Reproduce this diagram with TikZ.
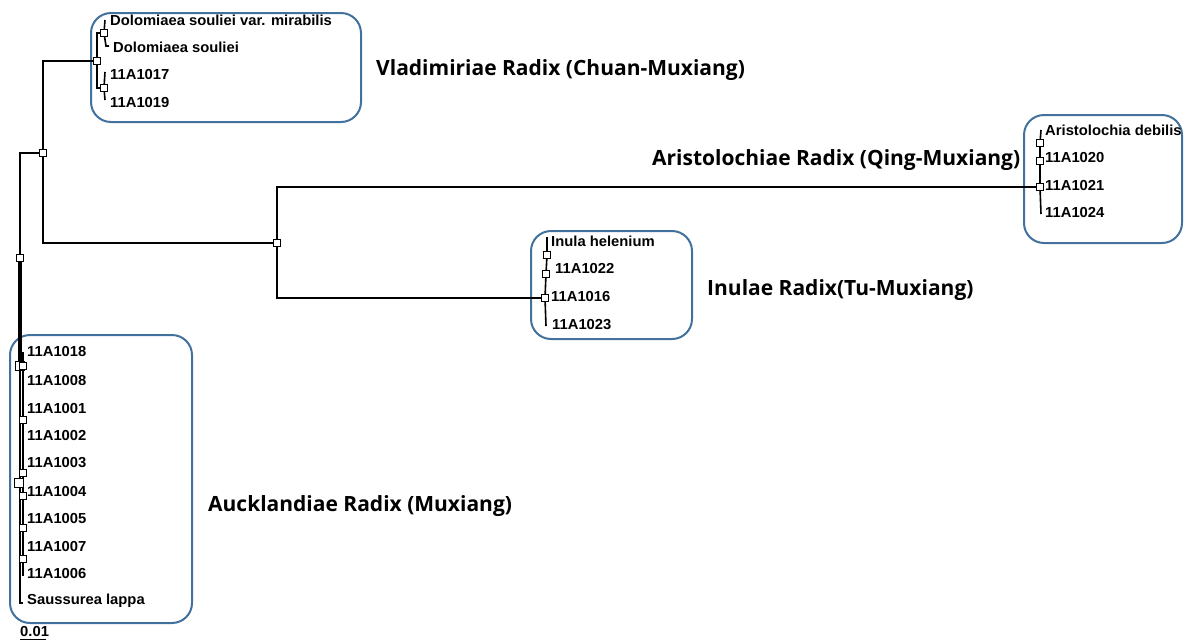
\documentclass[tikz,border=0pt]{standalone}
\usepackage{fontspec}
\setmainfont{Liberation Sans}
\newfontfamily\labfam{Open Sans}
\definecolor{boxblue}{RGB}{65,113,156}
\newcommand{\tipfont}{\fontsize{14.5}{16}\selectfont\bfseries\addfontfeature{FakeStretch=1.02}}
\newcommand{\grpfont}{\labfam\fontsize{21}{23}\selectfont\bfseries}
\begin{document}
\begin{tikzpicture}[x=1pt,y=-1pt]
\tikzset{
 br/.style={draw=black, line width=1.6pt},
 thk/.style={draw=black, line width=3.6pt},
 nd/.style={draw=black, fill=white, line width=0.8pt, minimum size=7pt, inner sep=0pt, rectangle},
 bignd/.style={nd, minimum size=9pt},
 tip/.style={anchor=west, inner sep=0pt, font=\tipfont},
 grp/.style={draw=boxblue, line width=2pt, rounded corners=20pt},
 clab/.style={anchor=west, inner sep=0pt, font=\grpfont},
}
\useasboundingbox (0,0) rectangle (1184,641);
% internal nodes
\coordinate (r0) at (20,258);
\coordinate (n1) at (43,153);
\coordinate (n2) at (277,243);
\coordinate (v0) at (97,61);
\coordinate (v1) at (104,33);
\coordinate (v2) at (104,88);
\coordinate (q0) at (1040,187);
\coordinate (q1) at (1040,161);
\coordinate (q2) at (1040,143);
\coordinate (i0) at (545,298);
\coordinate (i1) at (546,274);
\coordinate (i2) at (547,255);
\coordinate (a0) at (20,366);
\coordinate (a1) at (23,366);
% tip ends
\coordinate (tv1) at (105,20);
\coordinate (tv2a) at (106,46);
\coordinate (tv2) at (109,46);
\coordinate (tv3) at (105,72);
\coordinate (tv4) at (105,100);
\coordinate (tq1) at (1041,130);
\coordinate (tq4) at (1041,214);
\coordinate (ti1) at (547,237);
\coordinate (ti4) at (546,326);
\coordinate (ta0) at (20,603);
\coordinate (ta1) at (23,352);
\coordinate (ta2) at (23,576);
% group boxes
\draw[grp] (91,13) rectangle (361,122);
\draw[grp] (1024,115) rectangle (1182,243);
\draw[grp] (531,231) rectangle (692,339);
\draw[grp] (10,335) rectangle (192,623);
% branches
\draw[br] (n1) -| (r0);
\draw[thk] (r0) -- (a0);
\draw[br] (n1) |- (v0);
\draw[br] (n1) |- (n2);
\draw[br] (n2) |- (q0);
\draw[br] (n2) |- (i0);
\draw[br] (v0) |- (v1);
\draw[br] (v0) |- (v2);
\draw[br] (v1) -- (tv1);
\draw[br] (v1) -- (tv2a) -- (tv2);
\draw[br] (v2) -- (tv3);
\draw[br] (v2) -- (tv4);
\draw[br] (tq1) -- (q2) -- (q1) -- (q0) -- (tq4);
\draw[br] (ti1) -- (i2) -- (i1) -- (i0) -- (ti4);
\draw[br] (a0) -- (ta0) -- ++(3,0);
\draw[br] (ta1) -- (a1) -- (ta2);
% node boxes
\node[nd] (r0b) at (r0) {};
\node[nd] (n1b) at (n1) {};
\node[nd] (n2b) at (n2) {};
\node[nd] (v0b) at (v0) {};
\node[nd] (v1b) at (v1) {};
\node[nd] (v2b) at (v2) {};
\node[nd] (q0b) at (q0) {};
\node[nd] (q1b) at (q1) {};
\node[nd] (q2b) at (q2) {};
\node[nd] (i0b) at (i0) {};
\node[nd] (i1b) at (i1) {};
\node[nd] (i2b) at (i2) {};
\node[bignd] (a0b) at (a0) {};
\node[nd] (a1b) at (a1) {};
\node[nd] (a2b) at (23,420) {};
\node[nd] (a3b) at (23,473) {};
\node[bignd] (a4b) at (19,483) {};
\node[nd] (a5b) at (23,496) {};
\node[nd] (a6b) at (23,528) {};
\node[nd] (a7b) at (23,559) {};
% tip labels
\node[tip] (t1) at (110,20) {Dolomiaea souliei var. mirabilis};
\node[tip] (t2) at (113,47) {Dolomiaea souliei};
\node[tip] (t3) at (110,75) {11A1017};
\node[tip] (t4) at (110,103) {11A1019};
\node[tip] (t5) at (1045,130) {Aristolochia debilis};
\node[tip] (t6) at (1045,158) {11A1020};
\node[tip] (t7) at (1045,186) {11A1021};
\node[tip] (t8) at (1045,213) {11A1024};
\node[tip] (t9) at (551,241) {Inula helenium};
\node[tip] (t10) at (555,269) {11A1022};
\node[tip] (t11) at (551,297) {11A1016};
\node[tip] (t12) at (552,325) {11A1023};
\node[tip] (t13) at (27,352) {11A1018};
\node[tip] (t14) at (27,380) {11A1008};
\node[tip] (t15) at (27,408) {11A1001};
\node[tip] (t16) at (27,435) {11A1002};
\node[tip] (t17) at (27,463) {11A1003};
\node[tip] (t18) at (27,491) {11A1004};
\node[tip] (t19) at (27,518) {11A1005};
\node[tip] (t20) at (27,546) {11A1007};
\node[tip] (t21) at (27,573) {11A1006};
\node[tip] (t22) at (27,601) {Saussurea lappa};
% clade labels
\node[clab] (c1) at (376,70) {Vladimiriae Radix (Chuan-Muxiang)};
\node[clab] (c2) at (652,160) {Aristolochiae Radix (Qing-Muxiang)};
\node[clab] (c3) at (707,290) {Inulae Radix(Tu-Muxiang)};
\node[clab] (c4) at (208,506) {Aucklandiae Radix (Muxiang)};
% scale bar
\node[tip] (sc) at (20,631) {0.01};
\coordinate (sbl) at (20,639);
\coordinate (sbr) at (46,639);
\draw[line width=1pt] (sbl) -- (sbr);
\end{tikzpicture}
\end{document}
